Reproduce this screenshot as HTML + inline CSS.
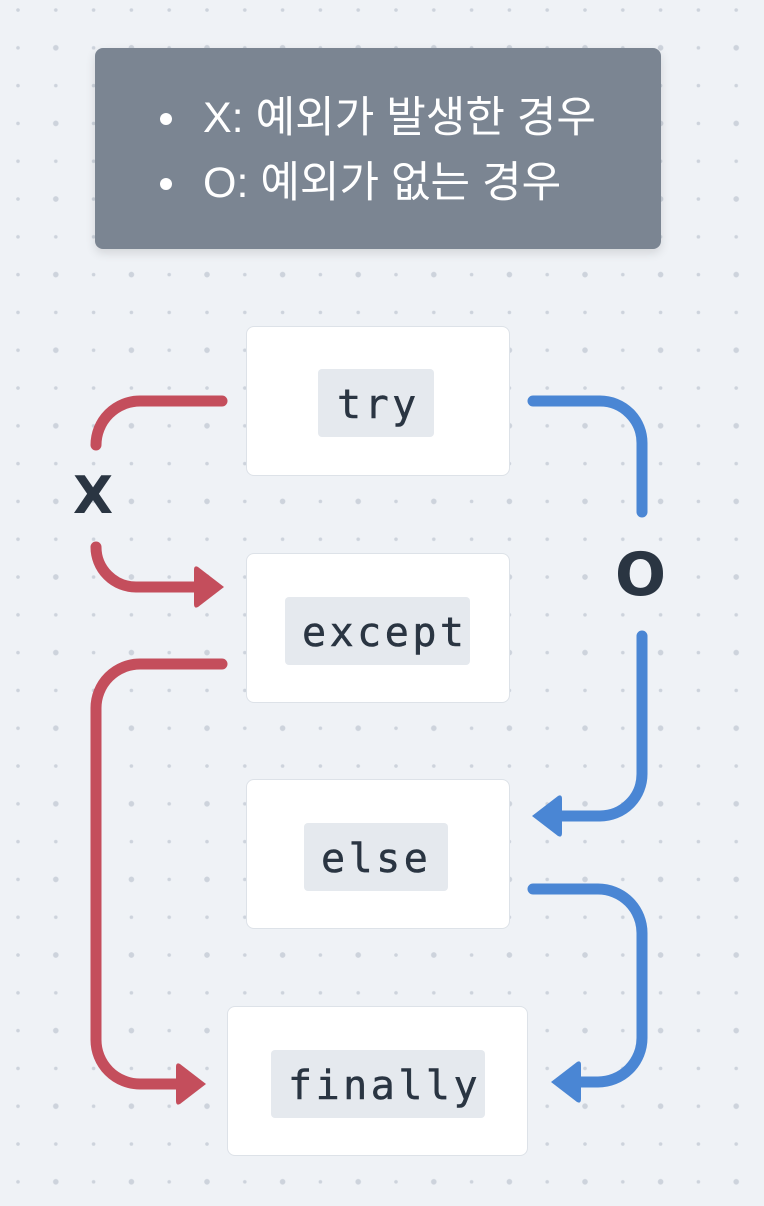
<!DOCTYPE html>
<html><head><meta charset="utf-8"><style>
html,body{margin:0;padding:0;width:764px;height:1206px;overflow:hidden;background:#eff2f6;font-family:"Liberation Sans","Noto Sans CJK KR",sans-serif}
svg{position:absolute;left:0;top:0}
.legend{position:absolute;left:95px;top:48px;width:566px;height:201px;background:#7b8592;border-radius:8px;box-shadow:0 4px 10px rgba(0,0,0,.12)}
.legend ul{margin:0;padding:0;position:absolute;left:62px;top:71px;color:#fff;font-size:43px;line-height:65px;list-style:none;white-space:nowrap}
.legend li{position:relative;padding-left:46px;height:65px}
.legend li span{position:absolute;left:46px;top:-33px;line-height:65px}
.legend li:before{content:"";position:absolute;left:3px;top:-6px;width:12px;height:12px;border-radius:50%;background:#fff}
.box{position:absolute;background:#fff;border:1px solid #dde2e8;border-radius:8px;box-sizing:border-box;overflow:hidden}
.code{position:absolute;background:#e5e9ee;border-radius:4px;font-family:"DejaVu Sans Mono","Liberation Mono",monospace;font-size:40px;color:#2a3542;line-height:72px;white-space:nowrap;overflow:hidden;letter-spacing:3.5px;-webkit-text-stroke:0.5px #2a3542}
.lbl{position:absolute;font-family:"DejaVu Sans","Liberation Sans",sans-serif;font-weight:bold;color:#2a3542}
</style></head><body>
<svg width="764" height="1206">
<defs><pattern id="p" x="-0.9" y="-27.8" width="75.6" height="75.6" patternUnits="userSpaceOnUse">
<circle cx="18.9" cy="37.8" r="1.8" fill="#cdd3dc"/><circle cx="56.7" cy="37.8" r="1.8" fill="#cdd3dc"/>
<circle cx="18.9" cy="75.6" r="1.8" fill="#cdd3dc"/><circle cx="56.7" cy="75.6" r="2.8" fill="#cdd3dc"/>
<circle cx="18.9" cy="0" r="1.8" fill="#cdd3dc"/><circle cx="56.7" cy="0" r="2.8" fill="#cdd3dc"/>
</pattern></defs>
<rect width="764" height="1206" fill="url(#p)"/>
<g fill="none" stroke-width="11" stroke-linecap="round">
<path d="M222 401 H140 A44 44 0 0 0 96 445" stroke="#c44e5c"/>
<path d="M96 547 A40 40 0 0 0 136 587 H200" stroke="#c44e5c"/>
<path d="M222 664 H140 A44 44 0 0 0 96 708 V1040 A44 44 0 0 0 140 1084 H182" stroke="#c44e5c"/>
<path d="M533 401 H600 A42 42 0 0 1 642 443 V512" stroke="#4a86d4"/>
<path d="M642 636 V774 A42 42 0 0 1 600 816 H556" stroke="#4a86d4"/>
<path d="M533 889 H598 A44 44 0 0 1 642 933 V1038 A44 44 0 0 1 598 1082 H574" stroke="#4a86d4"/>
</g>
<path d="M224 587 L198 567 Q194 565 194 570 V604 Q194 609 198 607 Z" fill="#c44e5c"/>
<path d="M206 1084 L180 1064 Q176 1062 176 1067 V1101 Q176 1106 180 1104 Z" fill="#c44e5c"/>
<path d="M532 816 L558 796 Q562 794 562 799 V833 Q562 838 558 836 Z" fill="#4a86d4"/>
<path d="M551 1082 L577 1062 Q581 1060 581 1065 V1099 Q581 1104 577 1102 Z" fill="#4a86d4"/>
</svg>
<div class="legend"><ul><li><span>X: 예외가 발생한 경우</span></li><li><span>O: 예외가 없는 경우</span></li></ul></div>
<div class="box" style="left:246px;top:326px;width:264px;height:150px"></div>
<div class="code" style="left:318px;top:369px;width:116px;height:68px;line-height:72px;padding-left:19px;box-sizing:border-box">try</div>
<div class="box" style="left:246px;top:553px;width:264px;height:150px"></div>
<div class="code" style="left:285px;top:597px;width:185px;height:68px;padding-left:17px;box-sizing:border-box">except</div>
<div class="box" style="left:246px;top:779px;width:264px;height:150px"></div>
<div class="code" style="left:304px;top:823px;width:144px;height:68px;padding-left:17px;box-sizing:border-box">else</div>
<div class="box" style="left:227px;top:1006px;width:301px;height:150px"></div>
<div class="code" style="left:271px;top:1050px;width:214px;height:68px;padding-left:17px;box-sizing:border-box">finally</div>
<div class="lbl" style="left:73px;top:466px;font-size:52px">X</div>
<div class="lbl" style="left:615px;top:540px;font-size:60px">O</div>
</body></html>
